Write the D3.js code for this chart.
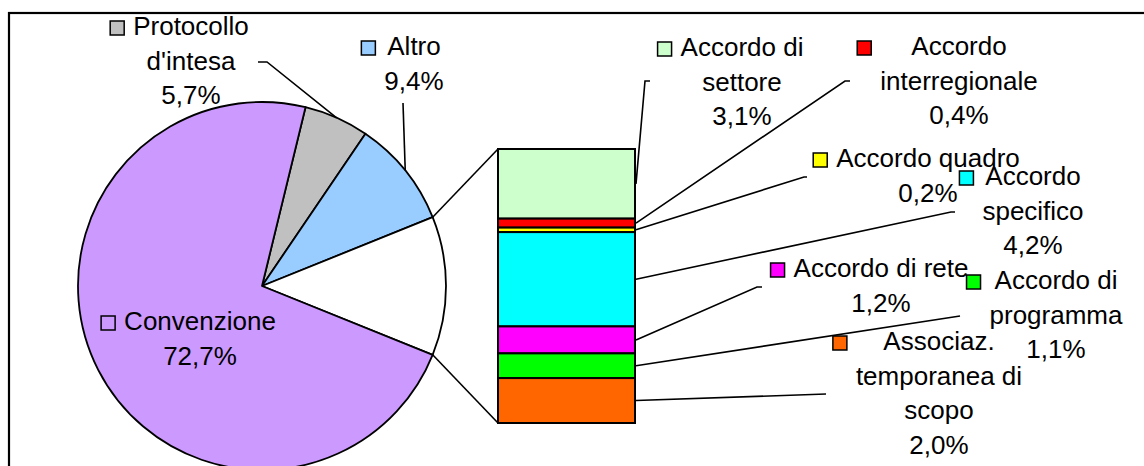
<!DOCTYPE html>
<html><head><meta charset="utf-8">
<script src="https://cdn.jsdelivr.net/npm/d3@7"></script>
<style>
html,body{margin:0;padding:0;background:#fff;}
svg{display:block;}
text{font-family:"Liberation Sans",Arial,sans-serif;font-size:26px;fill:#000;}
</style></head>
<body>
<svg id="chart" width="1144" height="466"></svg>
<script>
// ---- data ----
const pieCategories = ["Protocollo d'intesa", "Altro", "Altri", "Convenzione"];
const pieValues = [5.7, 9.4, null, 72.7];            // "Altri" = sum of bar values
const pieColors = ["#C0C0C0", "#99CCFF", "#FFFFFF", "#CC99FF"];

const barCategories = ["Accordo di settore", "Accordo interregionale", "Accordo quadro",
  "Accordo specifico", "Accordo di rete", "Accordo di programma", "Associaz. temporanea di scopo"];
const barValues = [3.1, 0.4, 0.2, 4.2, 1.2, 1.1, 2.0];
const barColors = ["#CCFFCC", "#FF0000", "#FFFF00", "#00FFFF", "#FF00FF", "#00FF00", "#FF6600"];

// label wrapping as in the picture
const labelLines = {
  "Protocollo d'intesa": ["Protocollo", "d'intesa"],
  "Altro": ["Altro"],
  "Convenzione": ["Convenzione"],
  "Accordo di settore": ["Accordo di", "settore"],
  "Accordo interregionale": ["Accordo", "interregionale"],
  "Accordo quadro": ["Accordo quadro"],
  "Accordo specifico": ["Accordo", "specifico"],
  "Accordo di rete": ["Accordo di rete"],
  "Accordo di programma": ["Accordo di", "programma"],
  "Associaz. temporanea di scopo": ["Associaz.", "temporanea di", "scopo"]
};

// ---- layout ----
const W = 1144, H = 466;
const pieC = {x: 262, y: 286}, R = 184;
const bar = {x0: 498, x1: 635, y0: 149, y1: 423};
const lineH = 34.5, keySize = 14, keyGap = 9;

// label layout: centre x, first baseline, leader start points
const labelLayout = {
  "Protocollo d'intesa": {cx: 191, by: 35, lead: [[258, 62], [267, 62]]},
  "Altro": {cx: 414, by: 55, lead: [[403, 103]]},
  "Convenzione": {cx: 200, by: 330, lead: null},
  "Accordo di settore": {cx: 742, by: 56, lead: [[650, 81], [645, 81]]},
  "Accordo interregionale": {cx: 959, by: 55, lead: [[850, 81], [845, 81]]},
  "Accordo quadro": {cx: 928, by: 167, lead: [[807, 177], [804, 177]]},
  "Accordo specifico": {cx: 1033, by: 185, lead: [[955, 212], [951, 212]]},
  "Accordo di rete": {cx: 881, by: 277, lead: [[762, 287], [757, 287]]},
  "Accordo di programma": {cx: 1056, by: 289, lead: [[960, 316]]},
  "Associaz. temporanea di scopo": {cx: 939, by: 350, lead: [[826, 394]]}
};

const fmt = v => d3.format(".1f")(v).replace(".", ",") + "%";

const svg = d3.select("#chart");
svg.append("rect").attr("width", W).attr("height", H).attr("fill", "#fff");
// frame
svg.append("rect").attr("x", 9).attr("y", 13).attr("width", 1200).attr("height", 600)
  .attr("fill", "none").attr("stroke", "#000").attr("stroke-width", 2.2);

const otherTotal = d3.sum(barValues);
const vals = pieValues.map((v, i) => v == null ? otherTotal : v);
const total = d3.sum(vals);
const otherIdx = 2;
const before = d3.sum(vals.slice(0, otherIdx)) + vals[otherIdx] / 2;
const start = Math.PI / 2 - before / total * 2 * Math.PI;

const pie = d3.pie().sort(null).value(d => d).startAngle(start).endAngle(start + 2 * Math.PI);
const arcs = pie(vals);
const arc = d3.arc().innerRadius(0).outerRadius(R);
const pt = (a, r) => [pieC.x + r * Math.sin(a), pieC.y - r * Math.cos(a)];

const g = svg.append("g").attr("transform", `translate(${pieC.x},${pieC.y})`);
g.selectAll("path").data(arcs).join("path")
  .attr("d", arc).attr("fill", (d, i) => pieColors[i])
  .attr("stroke", "#000").attr("stroke-width", 1.8).attr("stroke-linejoin", "round");

// bar of "Altri"
const y = d3.scaleLinear().domain([0, otherTotal]).range([bar.y0, bar.y1]);
const cum = d3.cumsum(barValues);
const segs = barValues.map((v, i) => ({name: barCategories[i], v, a: cum[i] - v, b: cum[i], c: barColors[i]}));

// series connector lines
const oa = arcs[otherIdx];
const up = pt(oa.startAngle, R), lo = pt(oa.endAngle, R);
svg.append("line").attr("x1", up[0]).attr("y1", up[1]).attr("x2", bar.x0).attr("y2", y(0))
  .attr("stroke", "#000").attr("stroke-width", 1.6);
svg.append("line").attr("x1", lo[0]).attr("y1", lo[1]).attr("x2", bar.x0).attr("y2", y(otherTotal))
  .attr("stroke", "#000").attr("stroke-width", 1.6);

svg.append("g").selectAll("rect").data(segs).join("rect")
  .attr("x", bar.x0).attr("width", bar.x1 - bar.x0)
  .attr("y", d => y(d.a)).attr("height", d => y(d.b) - y(d.a))
  .attr("fill", d => d.c).attr("stroke", "#000").attr("stroke-width", 2);

// leader lines
const leaders = [];
arcs.forEach((d, i) => {
  const L = labelLayout[pieCategories[i]];
  if (!L || !L.lead) return;
  const mid = (d.startAngle + d.endAngle) / 2;
  leaders.push(L.lead.concat([pt(mid, R)]));
});
segs.forEach(s => {
  const L = labelLayout[s.name];
  leaders.push(L.lead.concat([[bar.x1 + 1, y((s.a + s.b) / 2)]]));
});
svg.append("g").selectAll("path").data(leaders).join("path")
  .attr("d", d => d3.line()(d)).attr("fill", "none").attr("stroke", "#000").attr("stroke-width", 1.6);

// labels
const labels = [];
pieCategories.forEach((n, i) => { if (labelLayout[n]) labels.push({name: n, v: vals[i], c: pieColors[i]}); });
segs.forEach(s => labels.push({name: s.name, v: s.v, c: s.c}));

labels.forEach(l => {
  const L = labelLayout[l.name];
  const lines = labelLines[l.name].concat([fmt(l.v)]);
  const t = svg.append("text").attr("text-anchor", "middle");
  let maxW = 0;
  lines.forEach((s, k) => {
    const ts = t.append("tspan").attr("x", L.cx).attr("y", L.by + k * lineH).text(s);
    maxW = Math.max(maxW, ts.node().getComputedTextLength());
  });
  const kx = L.cx - maxW / 2 - keyGap - keySize;
  svg.append("rect").attr("x", kx).attr("y", L.by - keySize).attr("width", keySize).attr("height", keySize)
    .attr("fill", l.c).attr("stroke", "#000").attr("stroke-width", 1.5);
});
</script>
</body></html>
